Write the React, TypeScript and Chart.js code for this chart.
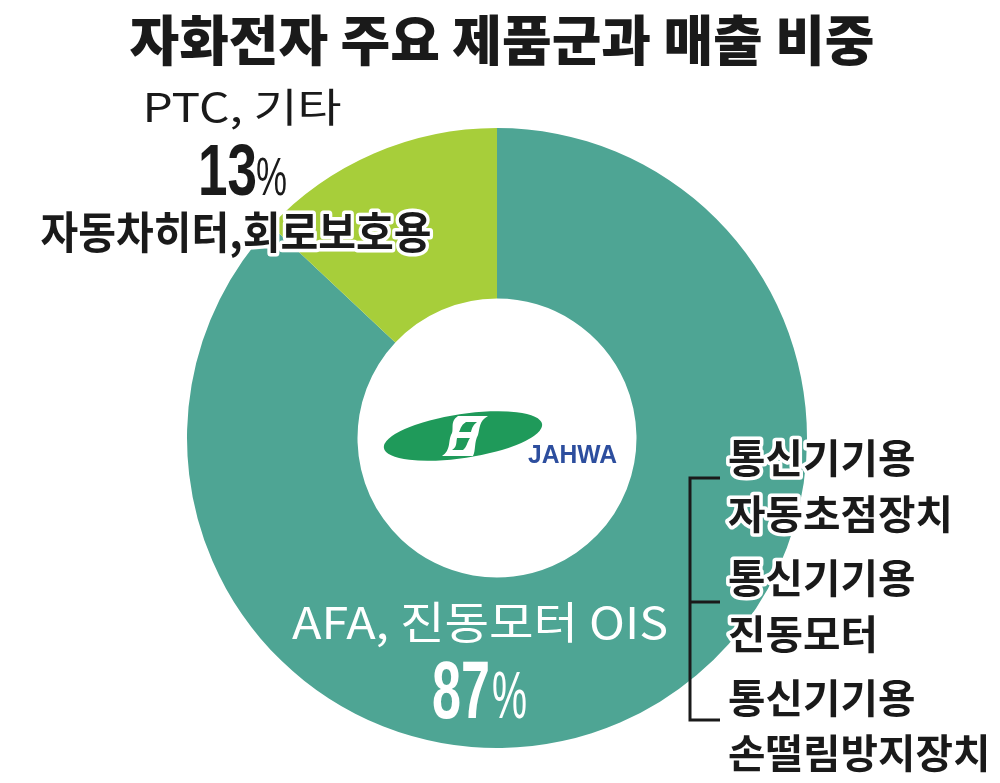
import React, { useEffect, useRef } from "react";
import { Chart, registerables } from "chart.js";

Chart.register(...registerables);

// Data
const chartTitle = "자화전자 주요 제품군과 매출 비중";
const segmentNames = ["AFA, 진동모터 OIS", "PTC, 기타"];
const segmentShares = [87, 13];
const ptcDetail = "자동차히터,회로보호용";
const oisProducts = [
  ["통신기기용", "자동초점장치"],
  ["통신기기용", "진동모터"],
  ["통신기기용", "손떨림방지장치"],
];
const brandName = "JAHWA";

const TEAL = "#4ea594";
const LIME = "#a7ce3a";
const LOGO_GREEN = "#1f9a5a";
const KR = '"Noto Sans CJK KR", "Noto Sans", sans-serif';
const LAT = '"Liberation Sans", Arial, sans-serif';

type TxtOpts = {
  size: number;
  weight?: string | number;
  family?: string;
  color?: string;
  align?: CanvasTextAlign;
  baseline?: CanvasTextBaseline;
  width?: number;
  sx?: number;
  stroke?: string;
  lw?: number;
};

function txt(ctx: CanvasRenderingContext2D, s: string, x: number, y: number, o: TxtOpts) {
  ctx.save();
  ctx.font = `${o.weight ?? "normal"} ${o.size}px ${o.family ?? KR}`;
  ctx.textBaseline = o.baseline ?? "middle";
  ctx.textAlign = o.align ?? "left";
  const w = ctx.measureText(s).width;
  const sx = o.width ? o.width / w : o.sx ?? 1;
  ctx.translate(x, y);
  ctx.scale(sx, 1);
  if (o.stroke) {
    ctx.lineJoin = "round";
    ctx.lineWidth = o.lw ?? 6;
    ctx.strokeStyle = o.stroke;
    ctx.strokeText(s, 0, 0);
  }
  ctx.fillStyle = o.color ?? "#1a1a1a";
  ctx.fillText(s, 0, 0);
  ctx.restore();
}

function drawLogo(ctx: CanvasRenderingContext2D, cx: number, cy: number) {
  ctx.save();
  ctx.beginPath();
  ctx.ellipse(cx, cy, 80, 22, -0.15, 0, Math.PI * 2);
  ctx.fillStyle = LOGO_GREEN;
  ctx.fill();
  ctx.clip();
  ctx.translate(cx, cy);
  // white slanted band with S-shaped sides
  ctx.fillStyle = "#ffffff";
  ctx.beginPath();
  ctx.moveTo(-5, -20);
  ctx.bezierCurveTo(-14, -14, -8, -6, -12, -1);
  ctx.bezierCurveTo(-15, 6, -12, 14, -21, 20);
  ctx.lineTo(10, 20);
  ctx.bezierCurveTo(13, 14, 11, 6, 15, -1);
  ctx.bezierCurveTo(17, -8, 16, -15, 25, -20);
  ctx.closePath();
  ctx.fill();
  // two green inner lenses leave the S outline and the crossbar white
  ctx.fillStyle = LOGO_GREEN;
  ctx.beginPath();
  ctx.moveTo(3, -14);
  ctx.bezierCurveTo(-3, -10, -2, -7, -4, -4);
  ctx.lineTo(8, -4);
  ctx.bezierCurveTo(9, -8, 10, -11, 14, -14);
  ctx.closePath();
  ctx.fill();
  ctx.beginPath();
  ctx.moveTo(-6, 2);
  ctx.bezierCurveTo(-7, 7, -6, 11, -11, 14);
  ctx.lineTo(0, 14);
  ctx.bezierCurveTo(4, 11, 4, 6, 7, 2);
  ctx.closePath();
  ctx.fill();
  ctx.restore();
  txt(ctx, brandName, 528, 456, { size: 25, weight: "bold", family: LAT, color: "#2d4e9e", width: 89 });
}

const annotations = {
  id: "annotations",
  afterDraw(chart: Chart) {
    const ctx = chart.ctx;
    // title
    txt(ctx, chartTitle, 502, 40, { size: 54, weight: 900, align: "center", width: 745, color: "#1a1a1a" });

    // PTC slice labels
    txt(ctx, segmentNames[1], 242, 107, { size: 40, weight: "normal", align: "center", width: 199 });
    txt(ctx, String(segmentShares[1]), 257, 195, { size: 73, weight: "bold", family: LAT, align: "right", baseline: "alphabetic", width: 59 });
    txt(ctx, "%", 256, 195, { size: 54, weight: "normal", family: LAT, baseline: "alphabetic", width: 31 });
    txt(ctx, ptcDetail, 236, 232, { size: 44, weight: "bold", align: "center", width: 391, stroke: "#ffffff", lw: 7 });

    // AFA / OIS labels
    txt(ctx, segmentNames[0], 480, 622, { size: 44, weight: "normal", align: "center", width: 376, color: "#ffffff" });
    txt(ctx, String(segmentShares[0]), 490, 718, { size: 82, weight: "bold", family: LAT, align: "right", baseline: "alphabetic", width: 58, color: "#ffffff" });
    txt(ctx, "%", 492, 718, { size: 66, weight: "normal", family: LAT, baseline: "alphabetic", width: 35, color: "#ffffff" });

    // bracket grouping the OIS products
    ctx.save();
    ctx.strokeStyle = "#1a1a1a";
    ctx.lineWidth = 3;
    ctx.beginPath();
    ctx.moveTo(720, 478);
    ctx.lineTo(690, 478);
    ctx.lineTo(690, 720);
    ctx.lineTo(720, 720);
    ctx.moveTo(690, 602);
    ctx.lineTo(720, 602);
    ctx.stroke();
    ctx.restore();

    const rowY = [458, 514, 578, 634, 698, 753];
    oisProducts.flat().forEach((s, i) => {
      txt(ctx, s, 728, rowY[i], { size: 40, weight: "bold", width: s.length * 37.5, stroke: "#ffffff", lw: 7 });
    });

    drawLogo(ctx, 463, 436);
  },
};

export default function App() {
  const ref = useRef<HTMLCanvasElement | null>(null);
  useEffect(() => {
    if (!ref.current) return;
    const chart = new Chart(ref.current, {
      type: "doughnut",
      data: {
        labels: segmentNames,
        datasets: [
          {
            data: segmentShares,
            backgroundColor: [TEAL, LIME],
            borderWidth: 0,
          },
        ],
      },
      options: {
        responsive: false,
        animation: false,
        cutout: "45%",
        layout: { padding: { left: 187, right: 193, top: 128, bottom: 35 } },
        plugins: { legend: { display: false }, tooltip: { enabled: false }, title: { display: false } },
      },
      plugins: [annotations],
    });
    return () => chart.destroy();
  }, []);
  return (
    <div style={{ position: "absolute", left: 0, top: 0, width: 1000, height: 783, background: "#ffffff" }}>
      <canvas ref={ref} width={1000} height={783} />
    </div>
  );
}
